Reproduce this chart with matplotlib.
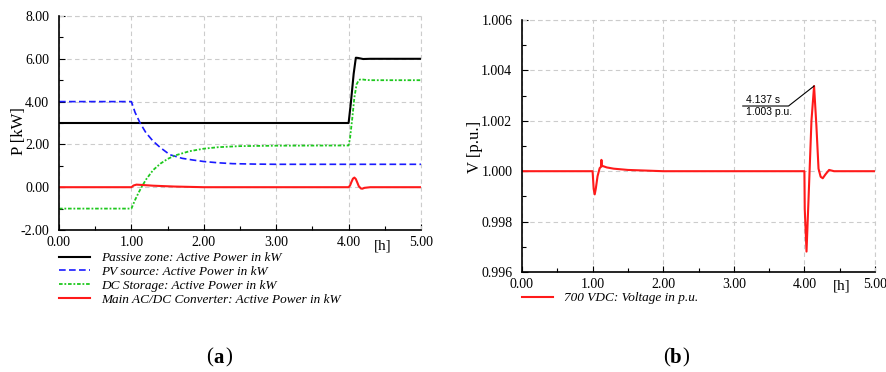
import matplotlib
matplotlib.use("Agg")
import matplotlib.pyplot as plt
from matplotlib.ticker import MultipleLocator, FormatStrFormatter

# ---------------- data (a) ----------------
t_passive = [0.0, 4.0, 4.03, 4.07, 4.10, 4.13, 4.2, 4.3, 5.0]
p_passive = [3.0, 3.0, 3.9, 5.3, 6.05, 6.04, 5.99, 6.0, 6.0]

t_pv = [0.0, 1.0, 1.05, 1.12, 1.2, 1.3, 1.4, 1.53, 1.7, 1.85, 2.0, 2.2, 2.4, 2.7, 3.0, 5.0]
p_pv = [4.0, 4.0, 3.5, 3.0, 2.55, 2.15, 1.85, 1.52, 1.35, 1.27, 1.20, 1.14, 1.10, 1.08, 1.07, 1.07]

t_dc = [0.0, 1.0, 1.05, 1.1, 1.14, 1.2, 1.3, 1.4, 1.5, 1.6, 1.8, 2.0, 2.2, 2.5, 3.0, 4.0,
        4.02, 4.05, 4.08, 4.11, 4.14, 4.17, 4.22, 4.3, 5.0]
p_dc = [-1.0, -1.0, -0.6, -0.25, 0.0, 0.35, 0.8, 1.1, 1.32, 1.48, 1.68, 1.80, 1.87, 1.92, 1.94, 1.95,
        2.3, 3.2, 4.2, 4.8, 5.0, 5.05, 5.02, 5.0, 5.0]

t_conv = [0.0, 1.0, 1.03, 1.07, 1.12, 1.3, 1.6, 2.0, 4.0, 4.02, 4.04, 4.06, 4.08, 4.10, 4.12, 4.14,
          4.17, 4.19, 4.22, 4.3, 5.0]
p_conv = [0.0, 0.0, 0.08, 0.12, 0.11, 0.07, 0.03, 0.0, 0.0, 0.08, 0.25, 0.40, 0.45, 0.38, 0.22,
          0.05, -0.06, -0.07, -0.03, 0.0, 0.0]

labels_a = ["Passive zone: Active Power in kW",
            "PV source: Active Power in kW",
            "DC Storage: Active Power in kW",
            "Main AC/DC Converter: Active Power in kW"]

# ---------------- data (b) ----------------
t_v = [0.0, 1.0, 1.015, 1.03, 1.045, 1.07, 1.1, 1.12, 1.125, 1.13, 1.15, 1.2, 1.3, 1.5, 1.8, 2.0,
       4.0, 4.005, 4.03, 4.06, 4.1, 4.137, 4.17, 4.20, 4.23, 4.26, 4.3, 4.35, 4.42, 5.0]
v_v = [1.0, 1.0, 0.9993, 0.99908, 0.9993, 0.9998, 1.00012, 1.00018, 1.00045, 1.0002, 1.0002,
       1.00015, 1.0001, 1.00005, 1.00002, 1.0,
       1.0, 0.9985, 0.99681, 0.9990, 1.0020, 1.00338, 1.0018, 1.0001, 0.99978, 0.99972, 0.99988,
       1.00005, 1.0, 1.0]
label_b = "700 VDC: Voltage in p.u."
peak_t = 4.137
peak_v = 1.00338

SERIF = ["Liberation Serif", "DejaVu Serif"]
TICK_FS = 10
grid_kw = dict(color="#cccccc", linestyle=(0, (4, 3)), linewidth=0.8)

fig = plt.figure(figsize=(8.87, 3.72), dpi=100)

def style_axes(ax, ymajor, yminor, yfmt):
    ax.set_xlim(0, 5)
    ax.xaxis.set_major_locator(MultipleLocator(1.0))
    ax.xaxis.set_minor_locator(MultipleLocator(0.5))
    ax.yaxis.set_major_locator(MultipleLocator(ymajor))
    ax.yaxis.set_minor_locator(MultipleLocator(yminor))
    ax.xaxis.set_major_formatter(FormatStrFormatter("%.2f"))
    ax.yaxis.set_major_formatter(FormatStrFormatter(yfmt))
    ax.grid(True, which="major", **grid_kw)
    ax.set_axisbelow(True)
    for s in ("top", "right"):
        ax.spines[s].set_visible(False)
    for s in ("left", "bottom"):
        ax.spines[s].set_linewidth(1.2)
    ax.tick_params(which="both", direction="in", width=0.8)
    ax.tick_params(which="major", length=4)
    ax.tick_params(which="minor", length=3)
    ax.tick_params(axis="x", which="major", pad=4)
    ax.tick_params(axis="y", which="major", pad=7)
    for lab in ax.get_xticklabels() + ax.get_yticklabels():
        lab.set_family(SERIF)
        lab.set_fontsize(TICK_FS)
    # dashed grid borders on top/right
    ax.axhline(ax.get_ylim()[1], **grid_kw, clip_on=False)
    ax.axvline(5, **grid_kw, clip_on=False)

# ---- panel (a)
ax1 = fig.add_axes([59/887, 1-230/372, (421-59)/887, (230-16)/372])
ax1.set_ylim(-2, 8)
l1, = ax1.plot(t_passive, p_passive, color="black", lw=1.5)
l2, = ax1.plot(t_pv, p_pv, color="#1a1aff", lw=1.2, linestyle=(0, (4, 2)))
l3, = ax1.plot(t_dc, p_dc, color="#1ec81e", lw=1.3, linestyle=(0, (2, 1, 1, 1)))
l4, = ax1.plot(t_conv, p_conv, color="#ff1a1a", lw=1.5)
style_axes(ax1, 2.0, 1.0, "%.2f")
ax1.set_ylabel("P [kW]", family=SERIF, fontsize=12)
ax1.yaxis.set_label_coords(-0.088, 0.46)
ax1.text(0.895, -0.075, "[h]", transform=ax1.transAxes, family=SERIF,
         fontsize=11, ha="center", va="center")
ax1.legend([l1, l2, l3, l4], labels_a, loc="upper left",
           bbox_to_anchor=(0.0, -0.103), frameon=False, borderaxespad=0,
           borderpad=0, handlelength=2.35, handletextpad=0.85,
           labelspacing=0.12, prop={"family": SERIF, "style": "italic", "size": 9.5})

# ---- panel (b)
ax2 = fig.add_axes([522/887, 1-272/372, (875-522)/887, (272-20)/372])
ax2.set_ylim(0.996, 1.006)
l5, = ax2.plot(t_v, v_v, color="#ff1a1a", lw=1.5)
style_axes(ax2, 0.002, 0.001, "%.3f")
ax2.set_ylabel("V [p.u.]", family=SERIF, fontsize=12)
ax2.yaxis.set_label_coords(-0.11, 0.496)
ax2.text(0.905, -0.055, "[h]", transform=ax2.transAxes, family=SERIF,
         fontsize=11, ha="center", va="center")
ax2.legend([l5], [label_b], loc="upper left", bbox_to_anchor=(0.0, -0.08),
           frameon=False, borderaxespad=0, borderpad=0, handlelength=2.35,
           handletextpad=0.85, prop={"family": SERIF, "style": "italic", "size": 9.5})

# annotation of peak
x_a0, x_a1, y_a = 3.127, 3.775, 1.002587
ax2.plot([x_a0, x_a1, peak_t], [y_a, y_a, peak_v], color="black", lw=0.8)
ax2.text(x_a0 + 0.04, y_a + 0.00003, f"{peak_t:.3f} s", family="Liberation Sans",
         fontsize=7.5, ha="left", va="bottom")
ax2.text(x_a0 + 0.04, y_a - 0.00003, f"{round(peak_v, 3):.3f} p.u.", family="Liberation Sans",
         fontsize=7.5, ha="left", va="top")

# captions
for cx, letter in ((219, "a"), (676, "b")):
    fx, fy = cx/887, 1-358/372
    fig.text(fx, fy, letter, fontsize=15, fontweight="bold", family=SERIF, ha="center", va="center")
    fig.text(fx - 6/887, fy, "(", fontsize=15, family=SERIF, ha="right", va="center")
    fig.text(fx + 6/887, fy, ")", fontsize=15, family=SERIF, ha="left", va="center")

fig.savefig("out.png", dpi=100)
